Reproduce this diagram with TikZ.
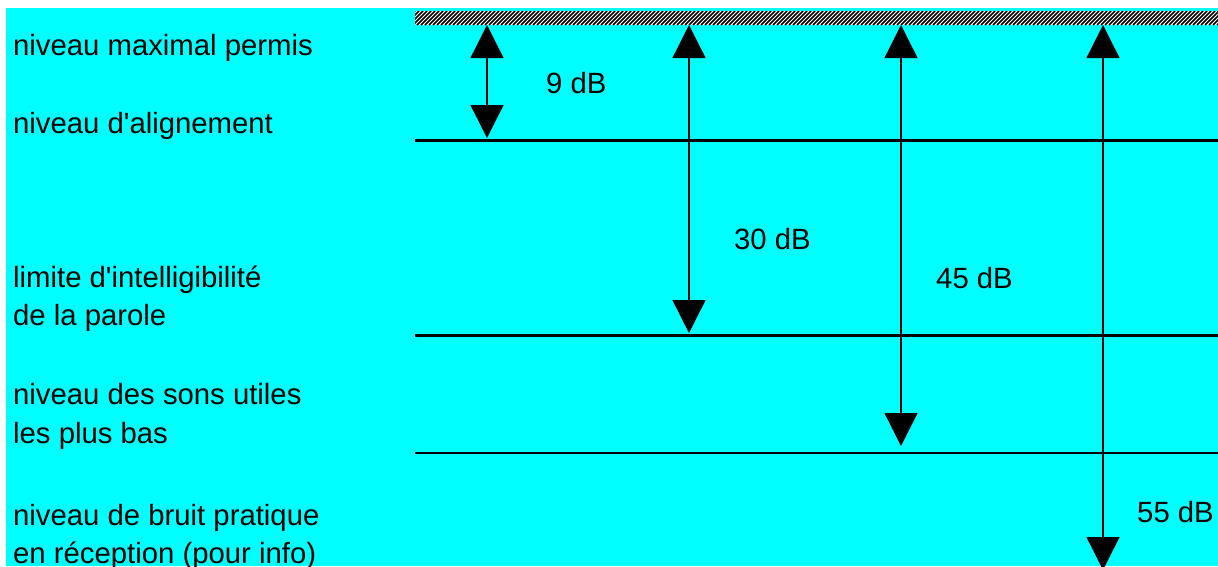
\documentclass[tikz,border=0pt]{standalone}
\usepackage{fontspec}
\setmainfont{Liberation Sans}
\usetikzlibrary{arrows.meta}
\definecolor{bgcyan}{RGB}{0,255,255}
\begin{document}
\begin{tikzpicture}[x=1pt,y=-1pt,
  lbl/.style={anchor=base west,inner sep=0pt,font=\fontsize{29.3}{38}\selectfont},
  dblbl/.style={anchor=base west,inner sep=0pt,font=\fontsize{29.3}{38}\selectfont},
  levelline/.style={line width=2.5pt,line cap=butt},
  span/.style={line width=1.3pt,{Triangle[width=33pt,length=33pt]}-{Triangle[width=33pt,length=33pt]}}]
\useasboundingbox (0,0) rectangle (1218,566);
% background
\fill[bgcyan] (6,8) rectangle (1218,566);
% hatched limit bar
\node[draw=none,fill=white,inner sep=0pt,minimum width=803pt,minimum height=14pt,anchor=north west] (bar) at (415,11) {};
\begin{scope}
  \clip (415,11) rectangle (1218,25);
  \foreach \x in {401,405,...,1221}
    \draw[line width=1.45pt] (\x,25) -- (\x+14,11);
\end{scope}
% level lines
\coordinate (l1a) at (415,140.5); \coordinate (l1b) at (1218,140.5);
\coordinate (l2a) at (415,335.5); \coordinate (l2b) at (1218,335.5);
\coordinate (l3a) at (415,453);   \coordinate (l3b) at (1218,453);
\draw[levelline] (l1a) -- (l1b);
\draw[levelline] (l2a) -- (l2b);
\draw[levelline] (l3a) -- (l3b);
% arrow end points
\coordinate (a1t) at (487,25);  \coordinate (a1b) at (487,138);
\coordinate (a2t) at (689,25);  \coordinate (a2b) at (689,333);
\coordinate (a3t) at (901,25);  \coordinate (a3b) at (901,446);
\coordinate (a4t) at (1103,25); \coordinate (a4b) at (1103,570);
\draw[span] (a1t) -- (a1b);
\draw[span] (a2t) -- (a2b);
\draw[span] (a3t) -- (a3b);
\draw[span] (a4t) -- (a4b);
% spacing labels
\node[dblbl] (d9)  at (546,93)  {9 dB};
\node[dblbl] (d30) at (734,249) {30 dB};
\node[dblbl] (d45) at (936,288) {45 dB};
\node[dblbl] (d55) at (1137,522) {55 dB};
% level names
\node[lbl] (t1)  at (13,55)  {niveau maximal permis};
\node[lbl] (t2)  at (13,133) {niveau d\textquotesingle alignement};
\node[lbl] (t3a) at (13,287) {limite d\textquotesingle intelligibilité};
\node[lbl] (t3b) at (13,325) {de la parole};
\node[lbl] (t4a) at (13,404) {niveau des sons utiles};
\node[lbl] (t4b) at (13,443) {les plus bas};
\node[lbl] (t5a) at (13,525) {niveau de bruit pratique};
\node[lbl] (t5b) at (13,563) {en réception (pour info)};
\end{tikzpicture}
\end{document}
